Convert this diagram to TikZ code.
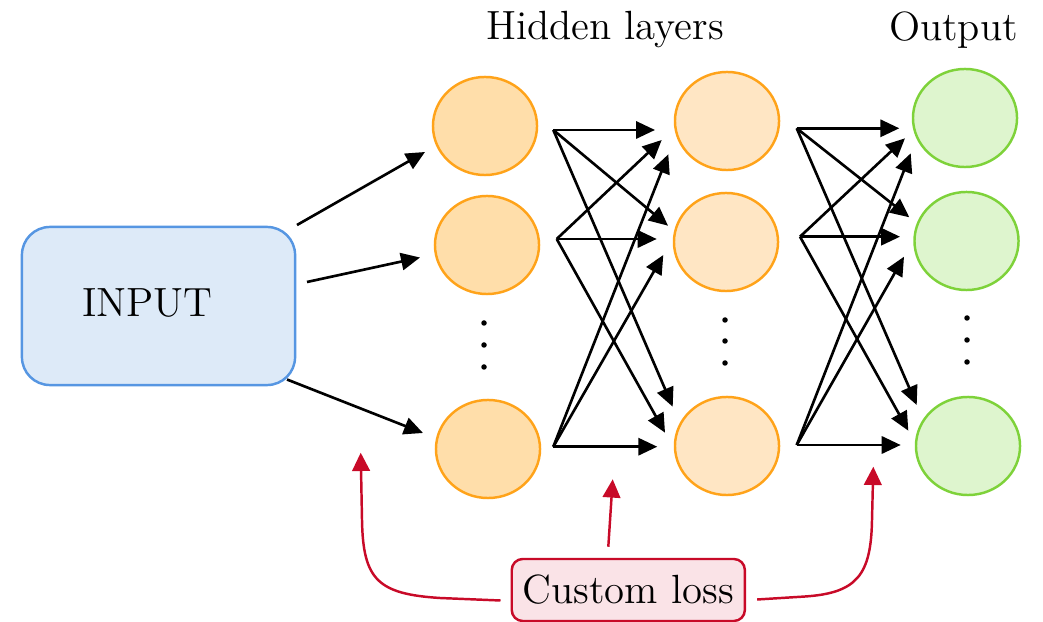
\documentclass[tikz,border=0pt]{standalone}
\usetikzlibrary{arrows.meta,shapes.geometric}

\definecolor{inFill}{RGB}{221,234,248}
\definecolor{inLine}{RGB}{86,150,226}
\definecolor{hOneFill}{RGB}{255,222,170}
\definecolor{hTwoFill}{RGB}{255,230,196}
\definecolor{hLine}{RGB}{255,163,26}
\definecolor{outFill}{RGB}{222,245,206}
\definecolor{outLine}{RGB}{126,210,58}
\definecolor{lossLine}{RGB}{200,10,40}
\definecolor{lossFill}{RGB}{250,227,231}

\begin{document}
\begin{tikzpicture}[x=0.01cm,y=-0.01cm,
  lbl/.style={font=\fontsize{11.6}{14}\selectfont, inner sep=0pt},
  neuron/.style={ellipse, draw, line width=0.7pt, minimum width=1.04cm,
    minimum height=0.98cm, inner sep=0pt},
  hidA/.style={neuron, draw=hLine, fill=hOneFill},
  hidB/.style={neuron, draw=hLine, fill=hTwoFill},
  outn/.style={neuron, draw=outLine, fill=outFill},
  link/.style={line width=0.75pt, -{Triangle[length=5.4pt,width=4.9pt]}},
  lossarrow/.style={draw=lossLine, line width=0.7pt,
    -{Triangle[length=5.2pt,width=5pt]}},
  dot/.style={circle, fill=black, inner sep=0pt, minimum size=0.055cm}
]
\useasboundingbox (0,0) rectangle (1043,622);

% titles
\node[lbl, anchor=base] (thid) at (605,39.5) {Hidden layers};
\node[lbl, anchor=base] (tout) at (953.5,40.5) {Output};

% input block
\node[draw=inLine, fill=inFill, line width=0.7pt, rounded corners=0.28cm,
  minimum width=2.73cm, minimum height=1.58cm] (input) at (158.5,306) {};
\node[lbl, anchor=base] (intext) at (147.5,316.5) {INPUT};

% first hidden layer
\node[hidA] (h1) at (485,126) {};
\node[hidA] (h2) at (487,245) {};
\node[hidA] (h3) at (488,449) {};
\node[dot] (hd1) at (484,323) {};
\node[dot] (hd2) at (484,345) {};
\node[dot] (hd3) at (484,367) {};

% second hidden layer
\node[hidB] (g1) at (727,121) {};
\node[hidB] (g2) at (726,242) {};
\node[hidB] (g3) at (727,446) {};
\node[dot] (gd1) at (725,320) {};
\node[dot] (gd2) at (725,341) {};
\node[dot] (gd3) at (725,363) {};

% output layer
\node[outn] (o1) at (965,118) {};
\node[outn] (o2) at (966.5,241) {};
\node[outn] (o3) at (968,446) {};
\node[dot] (od1) at (967,318) {};
\node[dot] (od2) at (967,340) {};
\node[dot] (od3) at (967,362) {};

% loss block
\node[lbl, draw=lossLine, fill=lossFill, line width=0.7pt, rounded corners=0.11cm,
  minimum width=2.33cm, minimum height=0.62cm] (loss) at (628.3,590) {Custom loss};

% input -> first hidden layer
\coordinate (i1) at (297,225);  \coordinate (i1t) at (425,152);
\coordinate (i2) at (307,282);  \coordinate (i2t) at (420,257.5);
\coordinate (i3) at (287,379.5);\coordinate (i3t) at (423,433);
\draw[link] (i1) -- (i1t);
\draw[link] (i2) -- (i2t);
\draw[link] (i3) -- (i3t);

% first -> second hidden layer
\coordinate (a1) at (553.3,130);
\coordinate (a2) at (556.7,239);
\coordinate (a3) at (553.3,446.7);
\coordinate (a11) at (655,130);     \coordinate (a12) at (668,225.7);
\coordinate (a13) at (672.7,406.7); \coordinate (a21) at (661.7,140);
\coordinate (a22) at (656.7,239);   \coordinate (a23) at (665,432.7);
\coordinate (a31) at (668.3,154.3); \coordinate (a32) at (663.3,255);
\coordinate (a33) at (657.3,446.7);
\foreach \s in {1,2,3}{
  \foreach \t in {1,2,3}{
    \draw[link] (a\s) -- (a\s\t);
  }
}

% second hidden layer -> output
\coordinate (b1) at (796.7,128.3);
\coordinate (b2) at (800,236.7);
\coordinate (b3) at (796.7,445);
\coordinate (b11) at (899.3,128.3); \coordinate (b12) at (909.3,217.3);
\coordinate (b13) at (916.7,405);   \coordinate (b21) at (905,138.3);
\coordinate (b22) at (900,236.7);   \coordinate (b23) at (908.3,430.7);
\coordinate (b31) at (910.7,153.3); \coordinate (b32) at (904,256.7);
\coordinate (b33) at (900.7,445);
\foreach \s in {1,2,3}{
  \foreach \t in {1,2,3}{
    \draw[link] (b\s) -- (b\s\t);
  }
}

% loss feedback
\coordinate (lt1) at (360.7,452.7);
\coordinate (lt2) at (612.7,479.3);
\coordinate (lt3) at (873.3,466.7);
\draw[lossarrow] ([shift={(-10,10.5)}]loss.west) -- (440,598)
  .. controls (378,594) and (363,580) .. (362,520) -- (lt1);
\draw[lossarrow] ([shift={(-20,-11)}]loss.north) -- (lt2);
\draw[lossarrow] ([shift={(11,9.5)}]loss.east) -- (805,596.5)
  .. controls (857,593) and (871,575) .. (872,520) -- (lt3);
\end{tikzpicture}
\end{document}
